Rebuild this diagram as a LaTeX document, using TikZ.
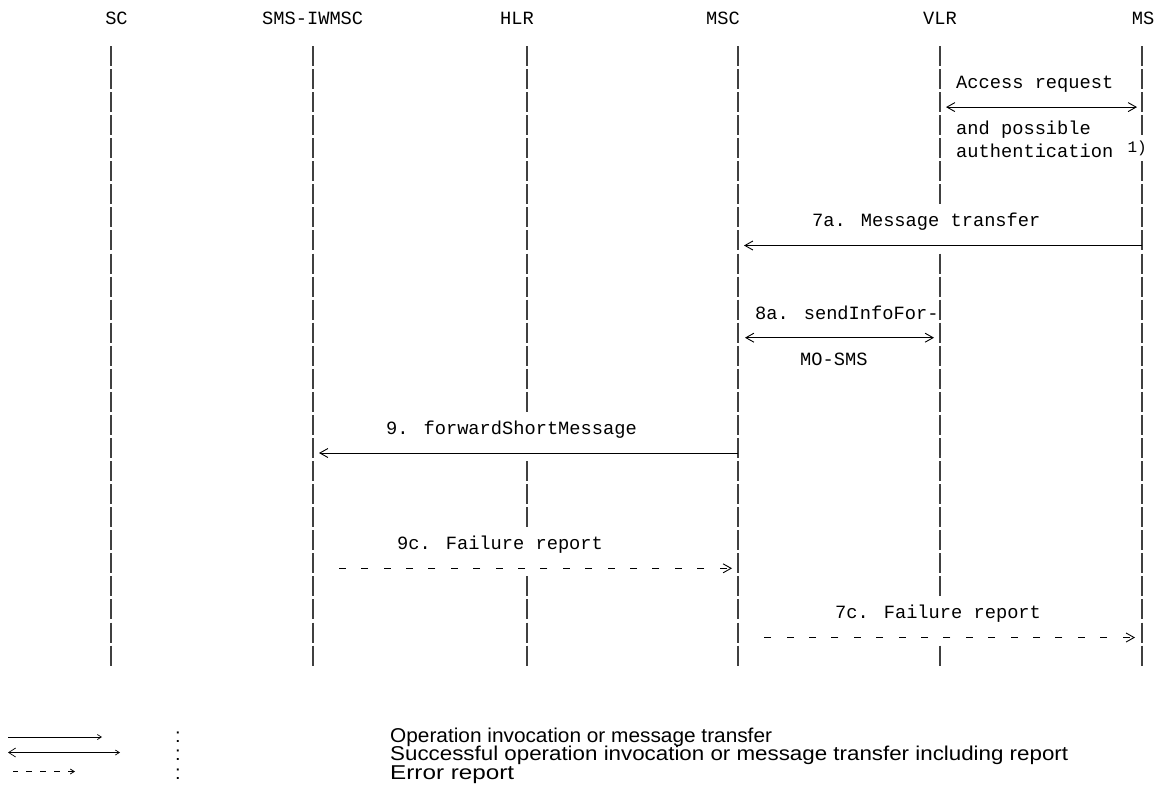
\documentclass[tikz,border=0pt]{standalone}
\usepackage{fontspec}
\setmainfont{Liberation Sans}
\newfontfamily\codefont{Liberation Mono}
\usepackage{tikz}
\usetikzlibrary{arrows.meta, calc}

\begin{document}
\begin{tikzpicture}[
  x=1pt, y=-1pt,
  lbl/.style={font=\codefont\fontsize{18.7}{20}\selectfont, inner sep=0pt, anchor=base west},
  life/.style={draw=black!75, line width=1.1pt, dash pattern=on 20pt off 3.06pt},
  msg/.style={draw, line width=0.9pt, -{Straight Barb[length=8pt,width=9pt]}},
  msgboth/.style={draw, line width=0.9pt, {Straight Barb[length=8pt,width=9pt]}-{Straight Barb[length=8pt,width=9pt]}},
  err/.style={draw, line width=0.9pt, dash pattern=on 7pt off 15.4pt, dash phase=18.4pt, {Straight Barb[length=8pt,width=9pt]}-},
  key/.style={font=\fontsize{20}{22}\selectfont, inner sep=0pt, anchor=base west}
]
\useasboundingbox (0,0) rectangle (1161,798);

% entities
\foreach \n/\x/\lab in {sc/116.5/SC, iw/312.7/SMS-IWMSC, hlr/517/HLR, msc/723/MSC, vlr/940/VLR, ms/1143/MS} {
  \node[lbl, anchor=base] (\n) at (\x,24) {\lab};
}

% lifelines (one dash per text row, pitch 23.06)
\foreach \n/\x in {lSC/111, lIW/313, lHLR/527, lMSC/738, lVLR/940, lMS/1142} {
  \coordinate (\n) at (\x,46);
}
\draw[life] (lSC) -- (lSC |- 0,665.56);
\draw[life] (lIW) -- (lIW |- 0,665.56);
\draw[life] (lMSC) -- (lMSC |- 0,665.56);
\draw[life] (lHLR) -- (lHLR |- 0,411.9);
\draw[life] (lHLR |- 0,461.08) -- (lHLR |- 0,527.2);
\draw[life] (lHLR |- 0,576.38) -- (lHLR |- 0,665.56);
\draw[life] (lVLR) -- (lVLR |- 0,204.36);
\draw[life] (lVLR |- 0,253.54) -- (lVLR |- 0,596.38);
\draw[life] (lVLR |- 0,645.56) -- (lVLR |- 0,665.56);
\draw[life] (lMS) -- (lMS |- 0,135.18);
\draw[life] (lMS |- 0,161.3) -- (lMS |- 0,665.56);

% access request
\node[lbl] (acc) at (956,88.6) {Access request};
\draw[msgboth] ($(lVLR |- 0,107.1)+(6,0)$) -- ($(lMS |- 0,107.1)+(-5,0)$);
\node[lbl] (poss) at (956,134.7) {and possible};
\node[lbl] (auth) at (956,157.7) {authentication};
\node[lbl, font=\codefont\fontsize{16}{17}\selectfont, anchor=base east] (note) at (1147,152) {1)};

% 7a
\node[lbl] (m7a) at (812,226.9) {7a. Message transfer};
\draw[msg] (lMS |- 0,245.5) -- ($(lMSC |- 0,245.5)+(6,0)$);

% 8a
\node[lbl] (m8a) at (755,319.2) {8a. sendInfoFor-};
\draw[msgboth] ($(lMSC |- 0,337.7)+(7,0)$) -- ($(lVLR |- 0,337.7)+(-6,0)$);
\node[lbl] (m8b) at (800,365.3) {MO-SMS};

% 9
\node[lbl] (m9) at (386,434.5) {9. forwardShortMessage};
\draw[msg] (lMSC |- 0,453) -- ($(lIW |- 0,453)+(6,0)$);

% 9c
\node[lbl] (m9c) at (397,549.8) {9c. Failure report};
\draw[err] ($(lMSC |- 0,568.3)+(-6,0)$) -- ($(lIW |- 0,568.3)+(15,0)$);

% 7c
\node[lbl] (m7c) at (835,618.9) {7c. Failure report};
\draw[err] ($(lMS |- 0,637.5)+(-7,0)$) -- ($(lMSC |- 0,637.5)+(17,0)$);

% legend
\coordinate (k1a) at (8,737);
\coordinate (k1b) at (102,737);
\coordinate (k2a) at (8,752.5);
\coordinate (k2b) at (120,752.5);
\coordinate (k3a) at (13,771.5);
\coordinate (k3b) at (75,771.5);
\draw[line width=0.7pt, -{Straight Barb[length=4pt,width=5pt]}] (k1a) -- (k1b);
\draw[line width=0.7pt, {Straight Barb[length=7pt,width=9pt]}-{Straight Barb[length=4pt,width=5pt]}] (k2a) -- (k2b);
\draw[line width=1.4pt, dash pattern=on 6pt off 8pt, {Straight Barb[length=4pt,width=5pt,line width=0.8pt]}-] (k3b) -- (k3a);

\foreach \n/\y in {c1/742, c2/760.5, c3/779} {
  \node[key, anchor=base] (\n) at (178,\y) {:};
}
\node[key] (t1) at (390,742) {\scalebox{1.041}[1]{Operation invocation or message transfer}};
\node[key] (t2) at (390,760.5) {\scalebox{1.117}[1]{Successful operation invocation or message transfer including report}};
\node[key] (t3) at (390,779) {\scalebox{1.213}[1]{Error report}};

\end{tikzpicture}
\end{document}
